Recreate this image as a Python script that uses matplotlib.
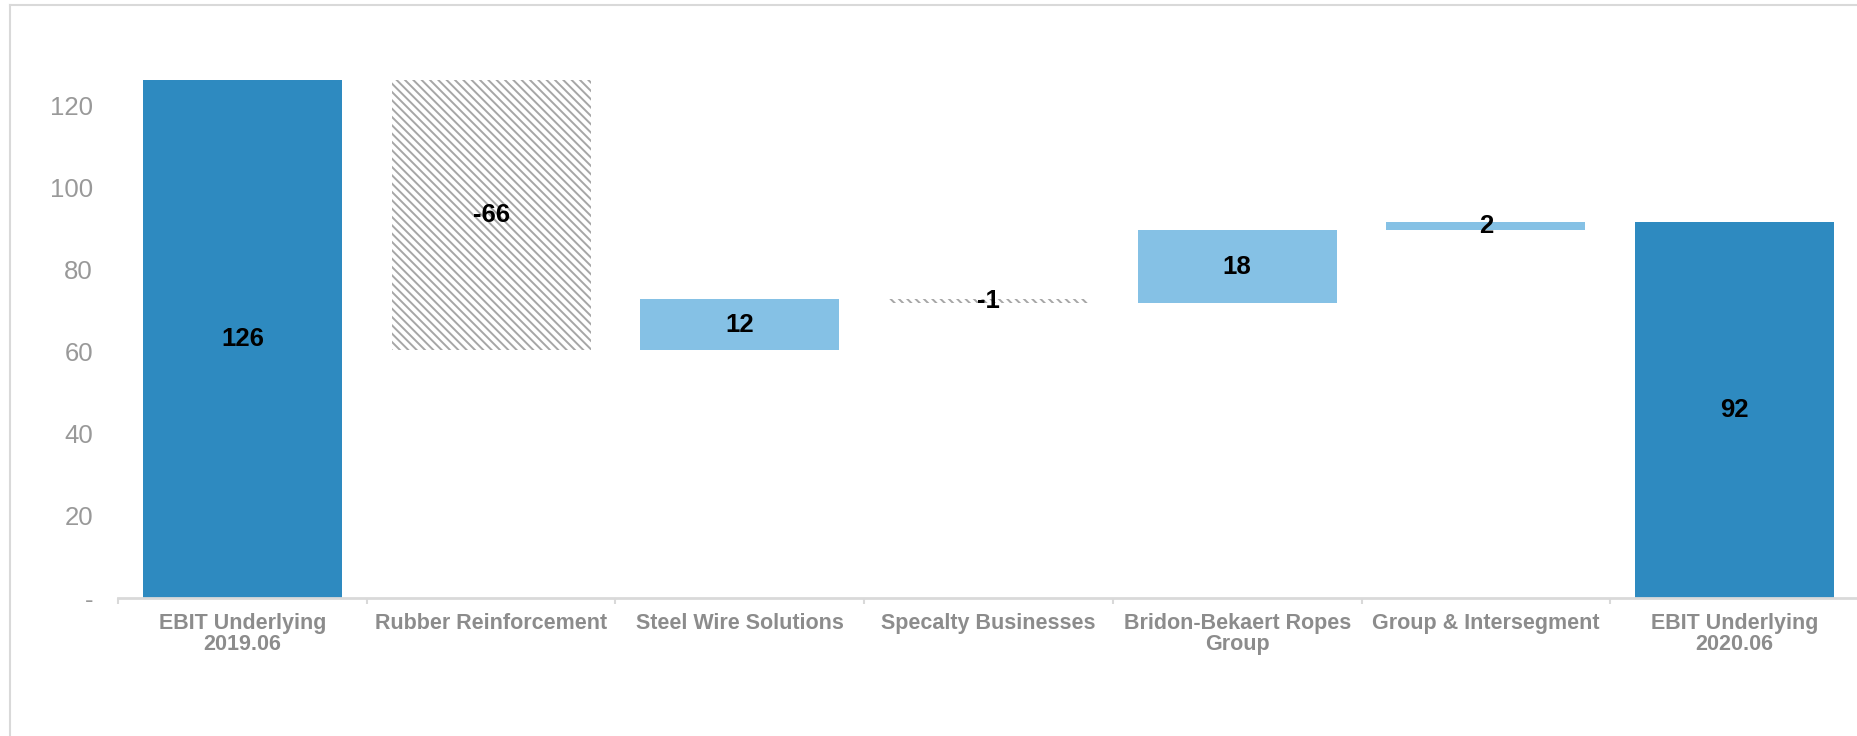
import numpy as np
import matplotlib
matplotlib.use("Agg")
import matplotlib.pyplot as plt
from matplotlib.lines import Line2D

# data
categories = ["EBIT Underlying\n2019.06", "Rubber Reinforcement", "Steel Wire Solutions",
              "Specalty Businesses", "Bridon-Bekaert Ropes\nGroup", "Group & Intersegment",
              "EBIT Underlying\n2020.06"]
start_value = 126.0
deltas = [-65.6, 12.3, -0.9, 17.8, 1.9]
end_value = 91.6
labels = ["126", "-66", "12", "-1", "18", "2", "92"]
yticks = [0, 20, 40, 60, 80, 100, 120]
yticklabels = ["-", "20", "40", "60", "80", "100", "120"]

dark_blue = "#2e8ac0"
light_blue = "#85c1e5"
hatch_gray = "#a6a6a6"
axis_gray = "#d9d9d9"

plt.rcParams["hatch.linewidth"] = 1.4
plt.rcParams["font.family"] = ["Liberation Sans", "DejaVu Sans"]

# waterfall bottoms / heights
bottoms = [0]
heights = [start_value]
level = start_value
for d in deltas:
    if d >= 0:
        bottoms.append(level)
        heights.append(d)
    else:
        bottoms.append(level + d)
        heights.append(-d)
    level += d
bottoms.append(0)
heights.append(end_value)

fig = plt.figure(figsize=(18.57, 7.36), dpi=100)
ax = fig.add_axes([118 / 1857, 138 / 736, 1741 / 1857, 534 / 736])

x = np.arange(len(categories))
for i in range(len(categories)):
    if i == 0 or i == len(categories) - 1:
        ax.bar(x[i], heights[i], bottom=bottoms[i], width=0.8, color=dark_blue, linewidth=0)
    elif deltas[i - 1] >= 0:
        ax.bar(x[i], heights[i], bottom=bottoms[i], width=0.8, color=light_blue, linewidth=0)
    else:
        ax.bar(x[i], heights[i], bottom=bottoms[i], width=0.8, facecolor="white",
               edgecolor=hatch_gray, hatch="\\\\\\\\", linewidth=0)
    ax.text(x[i], bottoms[i] + heights[i] / 2, labels[i], ha="center", va="center",
            fontsize=18.5, fontweight="bold", color="black")

ax.set_xlim(-0.5, len(categories) - 0.5)
ax.set_ylim(0, 130)

for s in ["top", "right", "left"]:
    ax.spines[s].set_visible(False)
ax.spines["bottom"].set_color(axis_gray)
ax.spines["bottom"].set_linewidth(2)

ax.set_yticks(yticks)
ax.set_yticklabels(yticklabels)
ax.tick_params(axis="y", length=0, pad=18, labelsize=18.5, labelcolor="#999999")

ax.set_xticks(x)
ax.set_xticklabels(categories, fontsize=15.5, fontweight="bold", color="#8c8c8c",
                   linespacing=1.0)
ax.tick_params(axis="x", which="major", length=0, pad=11)
ax.set_xticks(np.arange(-0.5, len(categories), 1), minor=True)
ax.tick_params(axis="x", which="minor", length=4, width=1.5, color=axis_gray)

# light frame around the chart area
fig.add_artist(Line2D([9.5 / 1857, 9.5 / 1857], [0, 1 - 4.5 / 736], color=axis_gray,
                      linewidth=1.5, transform=fig.transFigure))
fig.add_artist(Line2D([9.5 / 1857, 1], [1 - 4.5 / 736, 1 - 4.5 / 736], color=axis_gray,
                      linewidth=1.5, transform=fig.transFigure))

fig.savefig("out.png", dpi=100, facecolor="white")
